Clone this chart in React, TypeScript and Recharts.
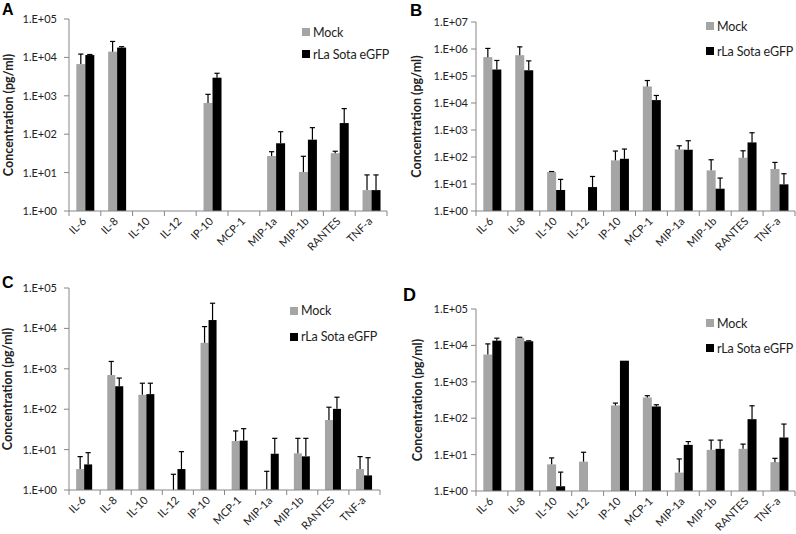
import React from 'react';
import { BarChart, Bar, XAxis, YAxis, Legend } from 'recharts';

// ---------- data ----------
const categories = ['IL-6', 'IL-8', 'IL-10', 'IL-12', 'IP-10', 'MCP-1', 'MIP-1a', 'MIP-1b', 'RANTES', 'TNF-a'];
const seriesNames = ['Mock', 'rLa Sota eGFP'];

// Panel A
const mockA = [6700, 14100, null, null, 650, null, 27, 10.4, 32, 3.5];
const mockAErr = [12200, 26000, null, null, 1090, null, 35, 26.6, 36, 8.7];
const virusA = [11500, 18000, null, null, 2960, null, 58, 72, 195, 3.5];
const virusAErr = [11900, 19000, null, null, 3860, null, 116, 148, 464, 8.7];

// Panel B
const mockB = [500000, 590000, 27.7, null, 75, 41000, 190, 32, 94, 36];
const mockBErr = [1050000, 1200000, 29, null, 166, 68000, 260, 79, 170, 63];
const virusB = [174000, 163000, 6, 7.7, 86, 12800, 186, 6.7, 347, 9.7];
const virusBErr = [376000, 363000, 14.8, 19, 197, 19000, 400, 16.6, 790, 24];

// Panel C
const mockC = [3.3, 700, 227, 1, 4400, 16.3, 1.04, 8.1, 54, 3.3];
const mockCErr = [6.7, 1520, 440, 2.45, 11100, 29, 2.9, 19, 112, 6.7];
const virusC = [4.3, 370, 236, 3.3, 16100, 16.7, 7.9, 6.8, 102, 2.3];
const virusCErr = [8.4, 590, 440, 8.9, 42000, 33, 19, 19, 198, 6.3];

// Panel D
const mockD = [5600, 16100, 5.4, 6.4, 224, 371, 3.2, 13.5, 14.4, 6.2];
const mockDErr = [11000, 16700, 8.1, 11.6, 260, 415, 7.6, 25, 19.4, 7.9];
const virusD = [13500, 13000, 1.35, null, 3800, 210, 18.5, 14.4, 94, 29.5];
const virusDErr = [15800, 13400, 3.3, null, null, 234, 22.8, 25, 219, 69];

// y-axis ticks
const ticks5 = [1, 10, 100, 1000, 10000, 100000];
const ticks7 = [1, 10, 100, 1000, 10000, 100000, 1000000, 10000000];

// ---------- styles ----------
const MOCK_COLOR = '#a5a5a5';
const VIRUS_COLOR = '#000000';
const AXIS_COLOR = '#868686';
const TEXT_COLOR = '#222222';
const FONT = 'Lato, "Open Sans", sans-serif';

const buildRows = (m: any[], me: any[], v: any[], ve: any[]) =>
  categories.map((c, i) => ({ name: c, mock: m[i], mockErr: me[i], virus: v[i], virusErr: ve[i] }));

const fmtTick = (v: number) => {
  const e = Math.round(Math.log10(v));
  return `1.E+${String(e).padStart(2, '0')}`;
};

const makeShape = (valKey: string, errKey: string, yMax: number) => (props: any) => {
  const { x, y, width, height, fill, payload, background } = props;
  const v = payload ? payload[valKey] : null;
  const e = payload ? payload[errKey] : null;
  if (v == null || !isFinite(y) || !isFinite(x)) return <g />;
  const cx = x + width / 2;
  let ey: number | null = null;
  if (e != null && e > v) {
    if (background && isFinite(background.height) && isFinite(background.y)) {
      ey = background.y + background.height * (1 - Math.log10(e) / Math.log10(yMax));
    } else if (height > 0 && v > 1) {
      ey = y - (height / Math.log10(v)) * (Math.log10(e) - Math.log10(v));
    }
  }
  return (
    <g>
      {height > 0.01 && <rect x={x} y={y} width={width} height={height} fill={fill} />}
      {ey != null && (
        <g stroke="#000" strokeWidth={1.2}>
          <line x1={cx} y1={y} x2={cx} y2={ey} />
          <line x1={cx - 2.6} y1={ey} x2={cx + 2.6} y2={ey} />
        </g>
      )}
    </g>
  );
};

const XTick = (props: any) => {
  const { x, y, payload, index } = props;
  const off = payload && payload.offset ? payload.offset : 16;
  const tx = x + 2;
  const ty = y + 11;
  return (
    <g>
      <line x1={x - off} y1={y} x2={x - off} y2={y + 5} stroke={AXIS_COLOR} />
      {index === categories.length - 1 && (
        <line x1={x + off} y1={y} x2={x + off} y2={y + 5} stroke={AXIS_COLOR} />
      )}
      <text
        x={tx}
        y={ty}
        transform={`rotate(-45 ${tx} ${ty})`}
        textAnchor="end"
        fontSize={11}
        fontFamily={FONT}
        fill={TEXT_COLOR}
      >
        {payload.value}
      </text>
    </g>
  );
};

const LegendBox = (props: any) => {
  const { payload, rowGap } = props;
  return (
    <div style={{ fontFamily: FONT, fontSize: 12.5, letterSpacing: -0.15, color: TEXT_COLOR }}>
      {(payload || []).map((p: any, i: number) => (
        <div key={i} style={{ display: 'flex', alignItems: 'center', height: rowGap, whiteSpace: 'nowrap' }}>
          <span style={{ display: 'inline-block', width: 8, height: 8, background: p.color, marginRight: 3 }} />
          <span>{p.value}</span>
        </div>
      ))}
    </div>
  );
};

type Panel = {
  key: string;
  left: number;
  top: number;
  width: number;
  margin: { top: number; right: number; left: number; bottom: number };
  yWidth: number;
  xHeight: number;
  yMax: number;
  ticks: number[];
  tickMargin: number;
  labelOffset: number;
  legend: { left: number; top: number; gap: number };
  rows: any[];
};

const panels: Panel[] = [
  {
    key: 'A', left: 0, top: 0, width: 400,
    margin: { top: 19, right: 13, left: 0, bottom: 0 }, yWidth: 69, xHeight: 56,
    yMax: 1e5, ticks: ticks5, tickMargin: 7, labelOffset: 9,
    legend: { left: 302, top: 21, gap: 22 },
    rows: buildRows(mockA, mockAErr, virusA, virusAErr),
  },
  {
    key: 'B', left: 400, top: 0, width: 396,
    margin: { top: 22, right: 1, left: 0, bottom: 0 }, yWidth: 76, xHeight: 56,
    yMax: 1e7, ticks: ticks7, tickMargin: 3, labelOffset: 17,
    legend: { left: 306, top: 13.5, gap: 25 },
    rows: buildRows(mockB, mockBErr, virusB, virusBErr),
  },
  {
    key: 'C', left: 0, top: 267, width: 400,
    margin: { top: 21, right: 20, left: 0, bottom: 0 }, yWidth: 69, xHeight: 44,
    yMax: 1e5, ticks: ticks5, tickMargin: 7, labelOffset: 8,
    legend: { left: 290, top: 30.5, gap: 26 },
    rows: buildRows(mockC, mockCErr, virusC, virusCErr),
  },
  {
    key: 'D', left: 400, top: 267, width: 396,
    margin: { top: 42, right: 1, left: 0, bottom: 0 }, yWidth: 76, xHeight: 43,
    yMax: 1e5, ticks: ticks5, tickMargin: 3, labelOffset: 18,
    legend: { left: 306, top: 43.5, gap: 25 },
    rows: buildRows(mockD, mockDErr, virusD, virusDErr),
  },
];

const letters = [
  { t: 'A', x: 2, y: 14.5, s: 16 },
  { t: 'B', x: 410, y: 15.5, s: 17 },
  { t: 'C', x: 2, y: 288, s: 16 },
  { t: 'D', x: 403, y: 301, s: 18 },
];

const PanelChart = ({ p }: { p: Panel }) => (
  <div style={{ position: 'absolute', left: p.left, top: p.top, width: p.width, height: 267 }}>
    <BarChart
      width={p.width}
      height={267}
      data={p.rows}
      margin={p.margin}
      barGap={0}
      barCategoryGap="23%"
    >
      <XAxis
        dataKey="name"
        interval={0}
        height={p.xHeight}
        axisLine={{ stroke: AXIS_COLOR }}
        tickLine={false}
        tickSize={0}
        tickMargin={0}
        tick={<XTick />}
      />
      <YAxis
        type="number"
        scale="log"
        domain={[1, p.yMax]}
        allowDataOverflow
        ticks={p.ticks}
        interval={0}
        width={p.yWidth}
        tickFormatter={fmtTick}
        axisLine={{ stroke: AXIS_COLOR }}
        tickLine={{ stroke: AXIS_COLOR }}
        tickSize={5}
        tickMargin={p.tickMargin}
        tick={{ fontSize: 11, fontFamily: FONT, fill: TEXT_COLOR }}
        label={{
          value: 'Concentration (pg/ml)',
          angle: -90,
          position: 'insideLeft',
          offset: p.labelOffset,
          style: { textAnchor: 'middle', fontFamily: FONT, fontWeight: 700, fontSize: 12.5, fill: TEXT_COLOR },
        }}
      />
      <Legend
        layout="vertical"
        align="center"
        verticalAlign="middle"
        wrapperStyle={{ left: p.legend.left, top: p.legend.top, width: 'auto', height: 'auto' }}
        content={(lp: any) => <LegendBox payload={lp.payload} rowGap={p.legend.gap} />}
      />
      <Bar
        dataKey="mock"
        name={seriesNames[0]}
        fill={MOCK_COLOR}
        isAnimationActive={false}
        shape={makeShape('mock', 'mockErr', p.yMax)}
      />
      <Bar
        dataKey="virus"
        name={seriesNames[1]}
        fill={VIRUS_COLOR}
        isAnimationActive={false}
        shape={makeShape('virus', 'virusErr', p.yMax)}
      />
    </BarChart>
  </div>
);

export default function App() {
  return (
    <div style={{ position: 'absolute', left: 0, top: 0, width: 796, height: 534, background: '#fff', overflow: 'hidden' }}>
      {panels.map((p) => (
        <PanelChart key={p.key} p={p} />
      ))}
      <svg width={796} height={534} style={{ position: 'absolute', left: 0, top: 0, pointerEvents: 'none' }}>
        {letters.map((l) => (
          <text key={l.t} x={l.x} y={l.y} fontSize={l.s} fontWeight={700} fontFamily='"Liberation Sans", Arial, sans-serif' fill="#000">
            {l.t}
          </text>
        ))}
      </svg>
    </div>
  );
}
